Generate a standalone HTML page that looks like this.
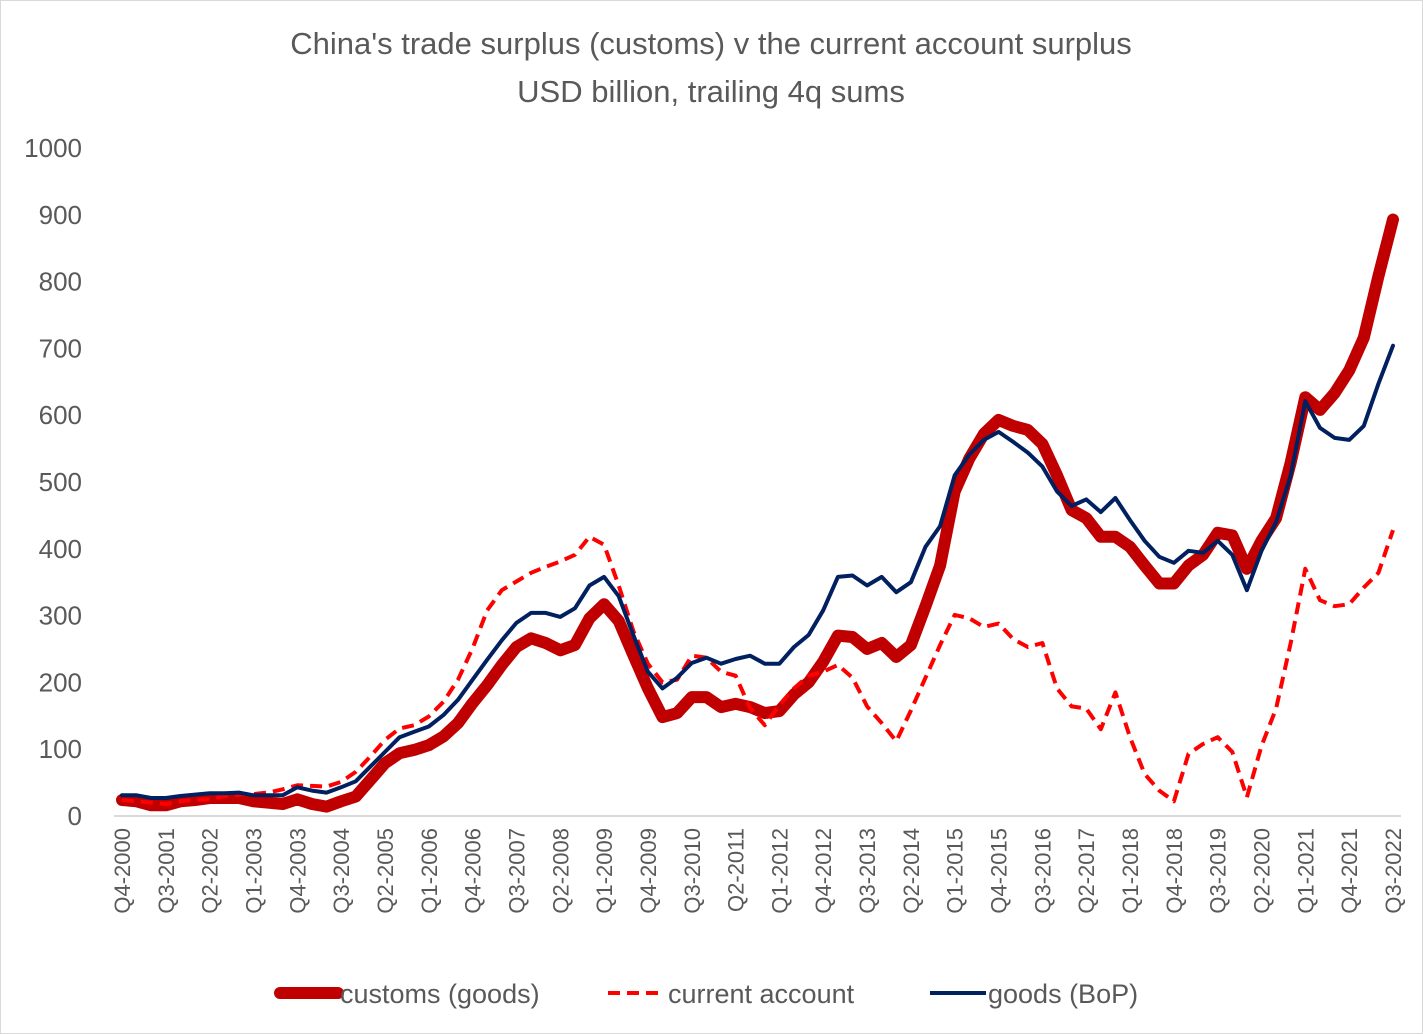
<!DOCTYPE html>
<html><head><meta charset="utf-8"><style>
body{margin:0;background:#fff}
svg{display:block;font-family:"Liberation Sans",sans-serif}
</style></head><body>
<svg id="chart" width="1423" height="1034" viewBox="0 0 1423 1034">
<rect x="0.5" y="0.5" width="1422" height="1033" fill="#fff" stroke="#d9d9d9"/>
<text x="711" y="54" text-anchor="middle" font-size="31" fill="#595959">China's trade surplus (customs) v the current account surplus</text>
<text x="711" y="102" text-anchor="middle" font-size="31" fill="#595959">USD billion, trailing 4q sums</text>
<g id="yaxis"></g>
<g id="xaxis"></g>
<g id="series"></g>
<g>
<g><line x1="280" y1="993" x2="338" y2="993" stroke="#c00000" stroke-width="12" stroke-linecap="round"/><text x="340" y="1003" font-size="27" fill="#595959">customs (goods)</text></g>
<g><line x1="608" y1="993" x2="664" y2="993" stroke="#ff0000" stroke-width="4" stroke-dasharray="12,7"/><text x="668" y="1003" font-size="27" fill="#595959">current account</text></g>
<g><line x1="930" y1="993" x2="986" y2="993" stroke="#002060" stroke-width="4"/><text x="988" y="1003" font-size="27" fill="#595959">goods (BoP)</text></g>
</g>
</svg>
<script>
const customs = [24,22,16,16,22,24,27,27,27,22,20,18,25,18,14,22,29,54,79,94,99,106,119,139,169,196,226,253,266,259,248,256,296,317,292,241,191,148,154,178,178,163,168,163,154,157,182,200,231,270,268,250,259,238,256,314,375,486,535,572,593,584,578,557,510,458,446,418,418,403,375,348,348,375,391,424,420,370,412,446,529,627,608,633,667,716,808,893];
const currentAccount = [24,22,20,18,22,24,25,30,32,33,35,40,46,45,44,51,66,89,114,131,136,149,171,204,251,308,338,351,364,373,381,391,418,406,345,277,228,200,204,240,237,216,210,161,136,166,191,210,216,226,207,164,139,112,158,207,256,301,296,283,288,265,253,259,191,164,161,130,185,118,63,38,22,93,108,118,96,28,105,161,259,370,323,314,317,342,364,428];
const goodsBop = [31,31,27,27,30,32,34,34,35,31,31,31,43,38,35,43,52,74,96,118,126,134,151,174,204,234,263,289,304,304,298,311,345,358,329,271,216,191,207,229,237,228,235,240,228,228,253,271,308,358,360,345,358,335,350,403,434,510,541,563,575,560,544,523,486,464,474,455,476,443,412,388,379,397,394,412,391,338,397,440,510,621,581,566,563,584,647,704];
const yTicks = [0,100,200,300,400,500,600,700,800,900,1000];
const startYear = 2000, startQ = 4;

const NS = "http://www.w3.org/2000/svg";
const X0 = 122, X1 = 1393, Y0 = 816, Y1 = 148, YMAX = 1000;
const n = customs.length;
const xs = i => X0 + (X1 - X0) * i / (n - 1);
const ys = v => Y0 - (Y0 - Y1) * v / YMAX;
function mk(tag, attrs, parent){const e=document.createElementNS(NS,tag);for(const k in attrs)e.setAttribute(k,attrs[k]);parent.appendChild(e);return e;}

const ya = document.getElementById('yaxis');
yTicks.forEach(t=>{
  const tx = mk('text',{x:82,y:ys(t)+9,'text-anchor':'end','font-size':'26',fill:'#595959'},ya);
  
  
  tx.textContent = t;
});

const xa = document.getElementById('xaxis');
const axl = mk('line',{x1:X0-8,y1:Y0,x2:X1+8,y2:Y0,stroke:'#d9d9d9','stroke-width':2},xa);


for(let i=0;i<n;i+=3){
  const q0 = startQ - 1 + i;
  const yr = startYear + Math.floor(q0/4), q = q0%4 + 1;
  const x = xs(i);
  const tx = mk('text',{x:0,y:0,'text-anchor':'end','font-size':'22',fill:'#595959',transform:`translate(${x+8},828) rotate(-90)`},xa);
  
  
  tx.textContent = `Q${q}-${yr}`;
}

const sg = document.getElementById('series');
function path(arr){return arr.map((v,i)=>(i?'L':'M')+xs(i).toFixed(1)+','+ys(v).toFixed(1)).join('');}
const p1 = mk('path',{d:path(customs),fill:'none',stroke:'#c00000','stroke-width':12,'stroke-linejoin':'round','stroke-linecap':'round'},sg);


const p2 = mk('path',{d:path(currentAccount),fill:'none',stroke:'#ff0000','stroke-width':4,'stroke-dasharray':'12,7','stroke-linejoin':'round'},sg);


const p3 = mk('path',{d:path(goodsBop),fill:'none',stroke:'#002060','stroke-width':4,'stroke-linejoin':'round','stroke-linecap':'round'},sg);


</script>
</body></html>
